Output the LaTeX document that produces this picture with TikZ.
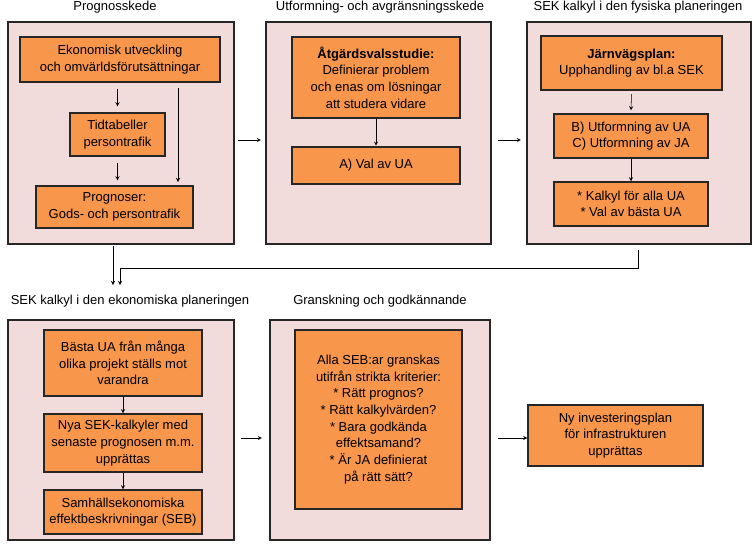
\documentclass[tikz,border=0pt]{standalone}
\usepackage{fontspec}
\setmainfont{Liberation Sans}
\usetikzlibrary{arrows}
\definecolor{panelpink}{HTML}{F2DCDB}
\definecolor{boxorange}{HTML}{F8964C}
\tikzset{
	panel/.style = {draw=black!85, line width=1.6pt, fill=panelpink, rectangle, inner sep=0pt},
	blk/.style   = {draw=black!85, line width=1pt, fill=boxorange, rectangle, align=center,
		inner sep=0pt, font=\fontsize{9.75}{12.5}\selectfont},
	bblk/.style  = {blk, line width=2pt},
	title/.style = {font=\fontsize{9.75}{12}\selectfont}
}
\newcommand{\pbox}[5]{\node[#1, minimum width=#4*0.75pt, minimum height=#5*0.75pt] at (#2,#3)}

\begin{document}
\begin{tikzpicture}[x=0.75pt, y=-0.75pt, >=stealth, thin]
\useasboundingbox (0,0) rectangle (753,544);
% panels
\pbox{panel}{121}{133}{226}{222} (p1) {};
\pbox{panel}{378.5}{133}{225}{222} (p2) {};
\pbox{panel}{639}{133}{224}{222} (p3) {};
\pbox{panel}{121}{430}{226}{220} (p4) {};
\pbox{panel}{380}{430}{220}{220} (p5) {};
% titles
\node[title] (t1) at (115,7) {Prognosskede};
\node[title] (t2) at (380,7) {Utformning- och avgränsningsskede};
\node[title] (t3) at (638,7) {SEK kalkyl i den fysiska planeringen};
\node[title] (t4) at (130,301) {SEK kalkyl i den ekonomiska planeringen};
\node[title] (t5) at (380,301) {Granskning och godkännande};
% first panel
\pbox{blk}{120}{59.5}{200}{45} (b1) {Ekonomisk utveckling\\och omvärldsförutsättningar};
\pbox{blk}{117.5}{134.5}{95}{43} (b2) {Tidtabeller\\persontrafik};
\pbox{blk}{114.5}{207}{157}{42} (b3) {Prognoser:\\Gods- och persontrafik};
% second panel
\pbox{bblk}{376}{77.5}{168}{81} (b4) {\textbf{Åtgärdsvalsstudie:}\\Definierar problem\\och enas om lösningar\\att studera vidare};
\pbox{bblk}{376}{165.5}{168}{37} (b5) {A) Val av UA};
% third panel
\pbox{bblk}{631.5}{63}{181}{54} (b6) {\textbf{Järnvägsplan:}\\Upphandling av bl.a SEK};
\pbox{blk}{631}{136}{154}{44} (b7) {B) Utformning av UA\\C) Utformning av JA};
\pbox{blk}{631}{204}{154}{44} (b8) {* Kalkyl för alla UA\\* Val av bästa UA};
% fourth panel
\pbox{blk}{123}{363}{158}{66} (b9) {Bästa UA från många\\olika projekt ställs mot\\varandra};
\pbox{blk}{123}{443}{158}{58} (b10) {Nya SEK-kalkyler med\\senaste prognosen m.m.\\upprättas};
\pbox{blk}{123}{512}{158}{44} (b11) {Samhällsekonomiska\\effektbeskrivningar (SEB)};
% fifth panel and result
\pbox{bblk}{378.5}{419.5}{167}{179} (b12) {Alla SEB:ar granskas\\utifrån strikta kriterier:\\* Rätt prognos?\\* Rätt kalkylvärden?\\* Bara godkända\\effektsamand?\\* Är JA definierat\\på rätt sätt?};
\pbox{blk}{615.5}{435.5}{175}{61} (b13) {Ny investeringsplan\\för infrastrukturen\\upprättas};

\draw[->] ([shift={(0,6)}]b1.south -| b2.north) -- ([shift={(0,-6)}]b2.north);
\draw[->] ([shift={(0,6)}]b2.south) -- ([shift={(0,-5)}]b2.south |- b3.north);
\draw[->] (178,88) -- (178,182);
\draw[->] (b4) -- (b5);
\draw[->] ([shift={(0,3)}]b6.south) -- ([shift={(0,-3)}]b7.north);
\draw[->] (b7) -- (b8);
\draw[->] (b9) -- (b10);
\draw[->] (b10) -- (b11);
\draw[->] ([shift={(3,7)}]p1.east) -- ([shift={(-4,7)}]p2.west);
\draw[->] ([shift={(6,7)}]p2.east) -- ([shift={(-5,7)}]p3.west);
\draw[->] ([shift={(6,8)}]p4.east) -- ([shift={(-7,8)}]p5.west);
\draw[->] ([shift={(7,8)}]p5.east) -- (b13.west |- 0,438);
\draw[->] (113,246) -- (113,285);
\draw[->] (638,250) -- (638,268) -- (120,268) -- (120,285);
\end{tikzpicture}
\end{document}
